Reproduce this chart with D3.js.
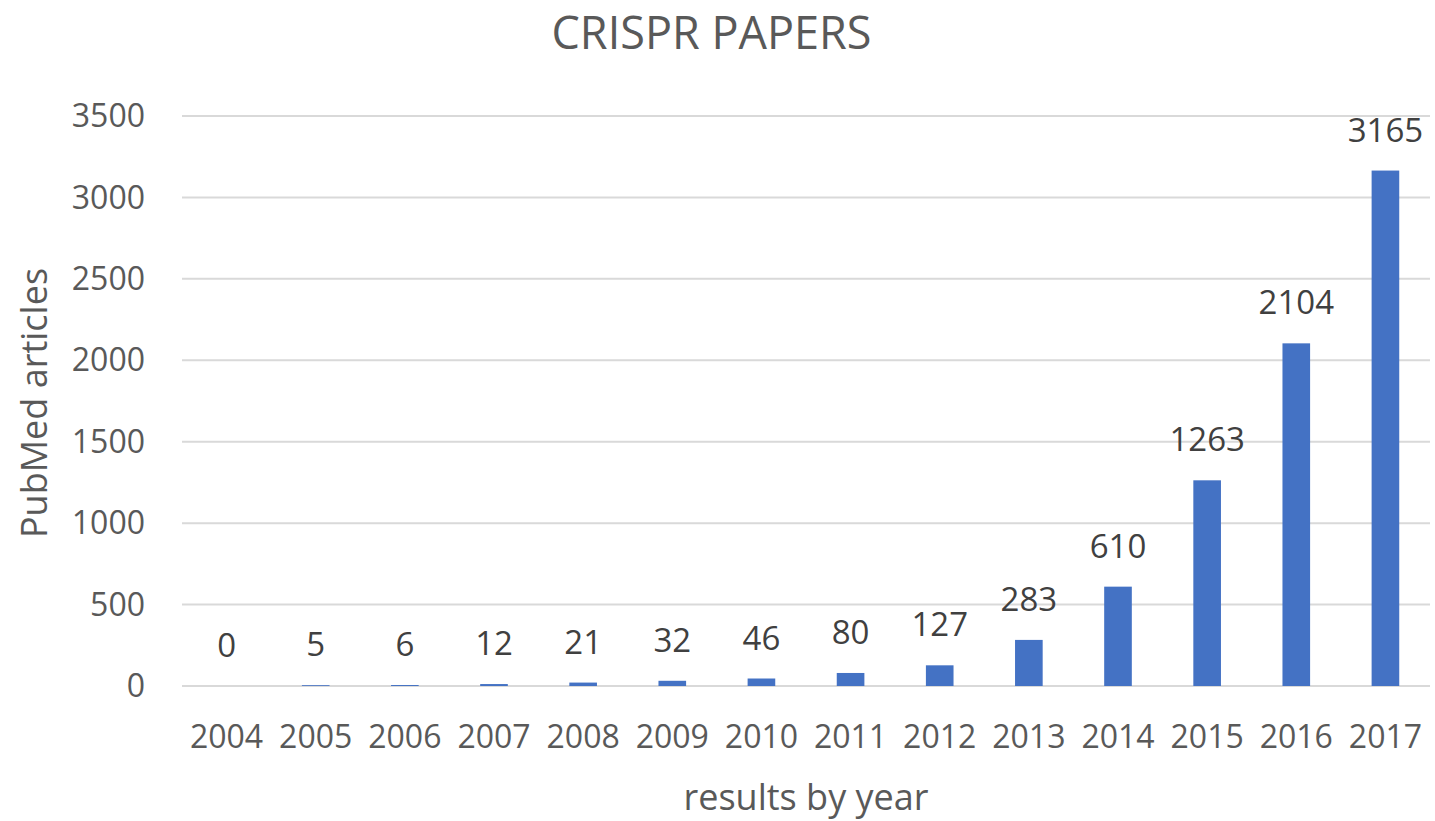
<!DOCTYPE html>
<html>
<head>
<meta charset="utf-8">
<script src="https://cdn.jsdelivr.net/npm/d3@7"></script>
<style>
  body { margin: 0; background: #fff; }
  svg text { font-family: "Open Sans", "Noto Sans", sans-serif; fill: #595959; }
</style>
</head>
<body>
<div id="chart"></div>
<script>
// chart data
const years = ['2004', '2005', '2006', '2007', '2008', '2009', '2010',
               '2011', '2012', '2013', '2014', '2015', '2016', '2017'];
const papers = [0, 5, 6, 12, 21, 32, 46, 80, 127, 283, 610, 1263, 2104, 3165];
const yTicks = [0, 500, 1000, 1500, 2000, 2500, 3000, 3500];

const width = 1435, height = 821;
const margin = { top: 116, right: 5, bottom: 135, left: 182 };

const svg = d3.select('#chart').append('svg')
    .attr('width', width)
    .attr('height', height);

const x = d3.scaleBand()
    .domain(years)
    .range([margin.left, width - margin.right])
    .paddingInner(0.69)
    .paddingOuter(0.345);

const y = d3.scaleLinear()
    .domain([0, 3500])
    .range([height - margin.bottom, margin.top]);

// gridlines
svg.append('g')
    .selectAll('line')
    .data(yTicks)
    .join('line')
    .attr('x1', margin.left)
    .attr('x2', width - margin.right)
    .attr('y1', d => y(d))
    .attr('y2', d => y(d))
    .attr('stroke', '#d9d9d9')
    .attr('stroke-width', 2);

// y tick labels
svg.append('g')
    .selectAll('text')
    .data(yTicks)
    .join('text')
    .attr('x', margin.left - 37)
    .attr('y', d => y(d))
    .attr('dy', '0.35em')
    .attr('text-anchor', 'end')
    .style('font-size', '32px')
    .text(d => d);

// bars
svg.append('g')
    .selectAll('rect')
    .data(papers)
    .join('rect')
    .attr('x', (d, i) => x(years[i]))
    .attr('y', d => y(d))
    .attr('width', x.bandwidth())
    .attr('height', d => y(0) - y(d))
    .attr('fill', '#4472c4');

// value labels
svg.append('g')
    .selectAll('text')
    .data(papers)
    .join('text')
    .attr('x', (d, i) => x(years[i]) + x.bandwidth() / 2)
    .attr('y', d => y(d) - 29)
    .attr('text-anchor', 'middle')
    .style('font-size', '33px')
    .style('fill', '#404040')
    .text(d => d);

// x tick labels
svg.append('g')
    .selectAll('text')
    .data(years)
    .join('text')
    .attr('x', d => x(d) + x.bandwidth() / 2)
    .attr('y', y(0) + 62)
    .attr('text-anchor', 'middle')
    .style('font-size', '32px')
    .text(d => d);

// titles
svg.append('text')
    .attr('x', width / 2 - 6)
    .attr('y', 49)
    .attr('text-anchor', 'middle')
    .style('font-size', '45px')
    .text('CRISPR PAPERS');

svg.append('text')
    .attr('x', (margin.left + width - margin.right) / 2)
    .attr('y', 810)
    .attr('text-anchor', 'middle')
    .style('font-size', '36px')
    .text('results by year');

svg.append('text')
    .attr('transform', `translate(47, ${(y(0) + y(3500)) / 2 + 2}) rotate(-90)`)
    .attr('text-anchor', 'middle')
    .style('font-size', '36px')
    .text('PubMed articles');
</script>
</body>
</html>
